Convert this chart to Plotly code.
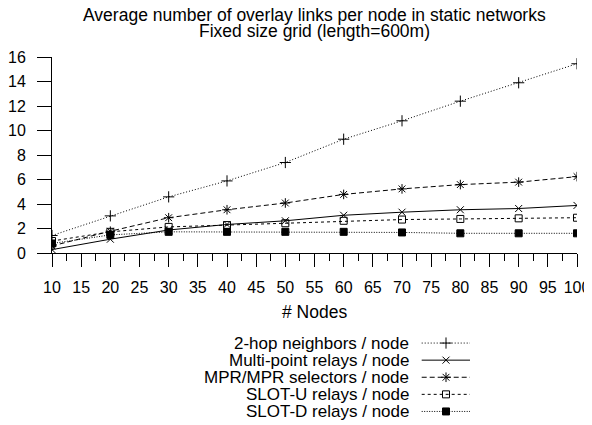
import plotly.graph_objects as go

# data
nodes = [10, 20, 30, 40, 50, 60, 70, 80, 90, 100]
two_hop = [1.45, 3.05, 4.6, 5.9, 7.4, 9.3, 10.8, 12.4, 13.9, 15.45]
multi_point = [0.3, 1.15, 1.9, 2.35, 2.65, 3.1, 3.35, 3.55, 3.65, 3.9]
mpr_selectors = [0.6, 1.8, 2.9, 3.55, 4.1, 4.8, 5.25, 5.6, 5.8, 6.25]
slot_u = [1.0, 1.75, 2.15, 2.3, 2.45, 2.65, 2.75, 2.8, 2.85, 2.9]
slot_d = [0.8, 1.5, 1.75, 1.75, 1.75, 1.75, 1.7, 1.63, 1.63, 1.63]

names = ['2-hop neighbors / node', 'Multi-point relays / node', 'MPR/MPR selectors / node',
         'SLOT-U relays / node', 'SLOT-D relays / node']
series = [two_hop, multi_point, mpr_selectors, slot_u, slot_d]
dashes = ['1px,2px', 'solid', '5px,3px', '3px,3px', '1px,1.5px']
symbols = ['cross-thin-open', 'x-thin-open', 'asterisk-open', 'square-open', 'square']
sizes = [8, 7, 8, 7, 7]

y_ticks = list(range(0, 17, 2))
x_ticks = list(range(10, 101, 5))

FONT = 'Liberation Sans, Arial, sans-serif'
# the page body has an 8px margin, so the figure starts at (8, 8) in the window
PAGE_OFF = 8
W, H = 592 - PAGE_OFF, 425 - PAGE_OFF
# positions below are in window pixels
PLOT_L, PLOT_R, PLOT_T, PLOT_B = 52, 577, 57, 425
M_L, M_R, M_T = PLOT_L - PAGE_OFF, W + PAGE_OFF - PLOT_R, PLOT_T - PAGE_OFF
M_B = H + PAGE_OFF - PLOT_B
PLOT_H = PLOT_B - PLOT_T


def fy(px):
    # window pixel row -> paper fraction
    return (PLOT_B - px) / PLOT_H


fig = go.Figure()

for name, vals, dash, sym, sz in zip(names, series, dashes, symbols, sizes):
    fig.add_trace(go.Scatter(
        x=nodes, y=vals, name=name, mode='lines+markers',
        line=dict(color='black', width=1, dash=dash),
        marker=dict(symbol=sym, size=sz, color='black', line=dict(color='black', width=1)),
        showlegend=False, xaxis='x', yaxis='y'))

# hand-drawn key below the plot (text left, sample right, as in the original)
rows = [1, 2, 3, 4, 5]
KEY_TOP, ROW_H = 343.05, 17.1
key_x0, key_x1, key_mid, key_text = 421.7, 470, 446, 411
for r, name, dash, sym, sz in zip(rows, names, dashes, symbols, sizes):
    fig.add_trace(go.Scatter(
        x=[key_x0, key_x1], y=[r, r], mode='lines',
        line=dict(color='black', width=1, dash=dash),
        showlegend=False, hoverinfo='skip', xaxis='x2', yaxis='y2'))
    fig.add_trace(go.Scatter(
        x=[key_mid], y=[r], mode='markers',
        marker=dict(symbol=sym, size=sz, color='black', line=dict(color='black', width=1)),
        showlegend=False, hoverinfo='skip', xaxis='x2', yaxis='y2'))
    fig.add_annotation(x=key_text, y=r, xref='x2', yref='y2', text=name, showarrow=False,
                       xanchor='right', yanchor='middle', font=dict(family=FONT, size=17, color='black'))

key_top_px = KEY_TOP - ROW_H / 2
fig.update_layout(
    template='none',
    width=W, height=H, margin=dict(l=M_L, r=M_R, t=M_T, b=M_B, pad=0, autoexpand=False),
    plot_bgcolor='white', paper_bgcolor='white',
    font=dict(family=FONT, size=16, color='black'),
    xaxis=dict(domain=[0, 1], anchor='y', range=[10, 100], tickvals=x_ticks, ticks='outside',
               ticklen=13, tickwidth=1, tickcolor='black', showline=True, linecolor='black',
               linewidth=1, showgrid=False, zeroline=False, ticklabelstandoff=6, automargin=False,
               minor=dict(dtick=2.5, tick0=10, ticks='outside', ticklen=7, tickcolor='black',
                          tickwidth=1, showgrid=False)),
    yaxis=dict(domain=[fy(253.3), 1], anchor='x', range=[0, 16], tickvals=y_ticks,
               ticks='outside', ticklen=14, tickwidth=1, tickcolor='black', showline=True,
               linecolor='black', linewidth=1, showgrid=False, zeroline=False, ticklabelstandoff=8,
               automargin=False),
    xaxis2=dict(domain=[0, 1], anchor='y2', range=[PLOT_L, PLOT_R], visible=False, automargin=False),
    yaxis2=dict(domain=[0, fy(key_top_px)], anchor='x2', automargin=False,
                range=[0.5 + (PLOT_B - key_top_px) / ROW_H, 0.5], visible=False),
)

# title lines (kept just below the page offset so they are not clipped) and x axis label
fig.add_annotation(x=0.5, y=fy(15), xref='paper', yref='paper',
                   text='Average number of overlay links per node in static networks',
                   showarrow=False, yanchor='middle', font=dict(family=FONT, size=17.5))
fig.add_annotation(x=0.5, y=fy(31), xref='paper', yref='paper', text='Fixed size grid (length=600m)',
                   showarrow=False, yanchor='middle', font=dict(family=FONT, size=17.5))
fig.add_annotation(x=0.5, y=fy(311.7), xref='paper', yref='paper', text='# Nodes',
                   showarrow=False, yanchor='middle', font=dict(family=FONT, size=17.5))

fig.write_html('out.html')
